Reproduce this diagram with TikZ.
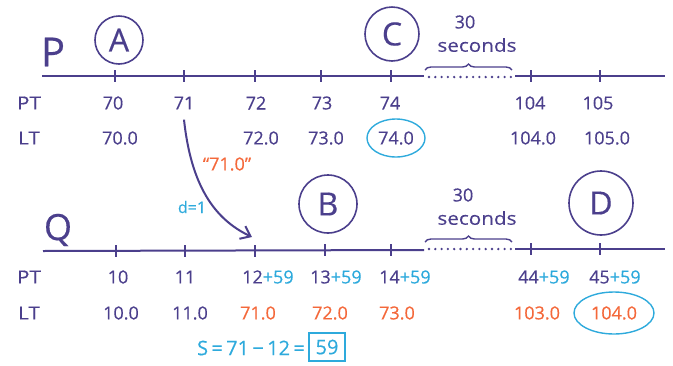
\documentclass[tikz,border=0pt]{standalone}
\usepackage{fontspec}
\setmainfont[FakeBold=0.4]{Open Sans}
\usetikzlibrary{decorations.pathreplacing,arrows.meta}
\definecolor{ink}{HTML}{4B3F8C}
\definecolor{orng}{HTML}{F4683A}
\definecolor{cy}{HTML}{2EAADC}
\begin{document}
\begin{tikzpicture}[x=1pt,y=-1pt,
  axisline/.style={draw=ink,line width=2pt},
  tickmark/.style={draw=ink,line width=1.5pt},
  dotline/.style={draw=ink,line width=2.6pt,dash pattern=on 0pt off 6.3pt,line cap=round},
  bracestyle/.style={draw=ink,line width=1.4pt,decorate,decoration={brace,amplitude=6pt}},
  lbl/.style={text=ink,inner sep=0pt,font=\fontsize{18}{18}\selectfont},
  olbl/.style={lbl,text=orng},
  big/.style={text=ink,inner sep=0pt,font=\fontsize{40}{40}\selectfont},
  circled/.style={draw=ink,line width=1.6pt,circle,inner sep=0pt,text=ink,font=\fontsize{32}{32}\selectfont},
  sec/.style={text=ink,inner sep=0pt,font=\fontsize{18}{18}\selectfont},
]
\useasboundingbox (0,0) rectangle (673,365);

% ---------- P timeline ----------
\node[big] (P) at (53,52) {P};
\coordinate (p0) at (42,76);
\coordinate (pg1) at (424,76);
\coordinate (pg2) at (515,76);
\coordinate (p1) at (665,76);
\draw[axisline] (p0) -- (pg1);
\draw[axisline] (pg2) -- (p1);
\coordinate (pd1) at (429,77);
\coordinate (pd2) at (512,77);
\draw[dotline] (pd1) -- (pd2);
\foreach \n/\x in {a/115,b/184,c/255,d/321,e/391,f/531,g/600}{
  \coordinate (pt\n) at (\x,76);
  \draw[tickmark] ([yshift=6pt]pt\n) -- ([yshift=-6pt]pt\n);
}
\node[circled,minimum width=46pt,minimum height=48pt] (A) at (119,40) {A};
\node[circled,minimum width=54pt,minimum height=48pt] (C) at (392,34) {C};
\coordinate (pb1) at (425,70);
\coordinate (pb2) at (512,70);
\draw[bracestyle] (pb1) -- (pb2);
\node[sec] (p30) at (465,22) {30};
\node[sec,xscale=1.15] (psec) at (477,45) {seconds};

\node[lbl,xscale=1.15] (PPT) at (29,103) {PT};
\node[lbl,xscale=1.15] (PLT) at (29,138) {LT};
\node[lbl] (p70) at (113,103) {70};
\node[lbl] (p71) at (184,103) {71};
\node[lbl] (p72) at (256,103) {72};
\node[lbl] (p73) at (322,103) {73};
\node[lbl] (p74) at (390,103) {74};
\node[lbl] (p104) at (530,103) {104};
\node[lbl] (p105) at (598,103) {105};
\node[lbl] (l70) at (120,138) {70.0};
\node[lbl] (l72) at (261,138) {72.0};
\node[lbl] (l73) at (326,138) {73.0};
\node[lbl] (l74) at (396,138) {74.0};
\node[lbl] (l104) at (533,138) {104.0};
\node[lbl] (l105) at (607,138) {105.0};
\draw[cy,line width=1.4pt] (l74) ellipse [x radius=29pt,y radius=19pt];

% ---------- arrow ----------
\coordinate (arrEnd) at (252,237);
\draw[ink,line width=2pt,-{Straight Barb[length=9pt,width=14pt]}] ([yshift=-10pt]p71.south) .. controls (191,185) and (214,219) .. (arrEnd);
\node[olbl] (q710) at (227,164) {“71.0”};
\node[lbl,text=cy,font=\fontsize{16}{16}\selectfont] (dlbl) at (192,207) {d=1};

% ---------- Q timeline ----------
\node[big,font=\fontsize{36}{36}\selectfont] (Q) at (58,230) {Q};
\coordinate (q0) at (43,251);
\coordinate (qg1) at (424,250);
\coordinate (qg2) at (515,249);
\coordinate (q1) at (665,249);
\draw[axisline] (q0) -- (qg1);
\draw[axisline] (qg2) -- (q1);
\coordinate (qd1) at (429,249);
\coordinate (qd2) at (512,249);
\draw[dotline] (qd1) -- (qd2);
\foreach \n/\x/\y in {a/116/251,b/185/251,c/255/251,d/325/250,e/391/250,f/531/249,g/600/249}{
  \coordinate (qt\n) at (\x,\y);
  \draw[tickmark] ([yshift=6pt]qt\n) -- ([yshift=-6pt]qt\n);
}
\node[circled,minimum width=50pt,minimum height=58pt] (B) at (328,204) {B};
\node[circled,minimum width=64pt,minimum height=60pt] (D) at (601,203) {D};
\coordinate (qb1) at (425,242);
\coordinate (qb2) at (512,242);
\draw[bracestyle] (qb1) -- (qb2);
\node[sec] (q30) at (463,195) {30};
\node[sec,xscale=1.15] (qsec) at (477,218) {seconds};

\node[lbl,xscale=1.15] (QPT) at (29,277) {PT};
\node[lbl,xscale=1.15] (QLT) at (29,313) {LT};
\node[lbl] (q10) at (118,277) {10};
\node[lbl] (q11) at (185,277) {11};
\node[lbl,anchor=west] (q12) at (242,277) {12\textcolor{cy}{+59}};
\node[lbl,anchor=west] (q13) at (310,277) {13\textcolor{cy}{+59}};
\node[lbl,anchor=west] (q14) at (379,277) {14\textcolor{cy}{+59}};
\node[lbl,anchor=west] (q44) at (518,277) {44\textcolor{cy}{+59}};
\node[lbl,anchor=west] (q45) at (589,277) {45\textcolor{cy}{+59}};
\node[lbl] (m10) at (121,313) {10.0};
\node[lbl] (m11) at (190,313) {11.0};
\node[olbl] (m71) at (258,313) {71.0};
\node[olbl] (m72) at (330,313) {72.0};
\node[olbl] (m73) at (397,313) {73.0};
\node[olbl] (m103) at (537,313) {103.0};
\node[olbl] (m104) at (614,313) {104.0};
\draw[cy,line width=1.4pt] (m104) ellipse [x radius=40pt,y radius=21pt];

% ---------- S formula ----------
\node[lbl,text=cy,anchor=east,font=\fontsize{20}{20}\selectfont] (sf) at (305,348) {S\,=\,71\,−\,12\,=};
\node[draw=cy,line width=1.4pt,text=cy,inner sep=3pt,font=\fontsize{20}{20}\selectfont,minimum height=28pt,minimum width=36pt] (s59) at (327,347) {59};
\end{tikzpicture}
\end{document}
